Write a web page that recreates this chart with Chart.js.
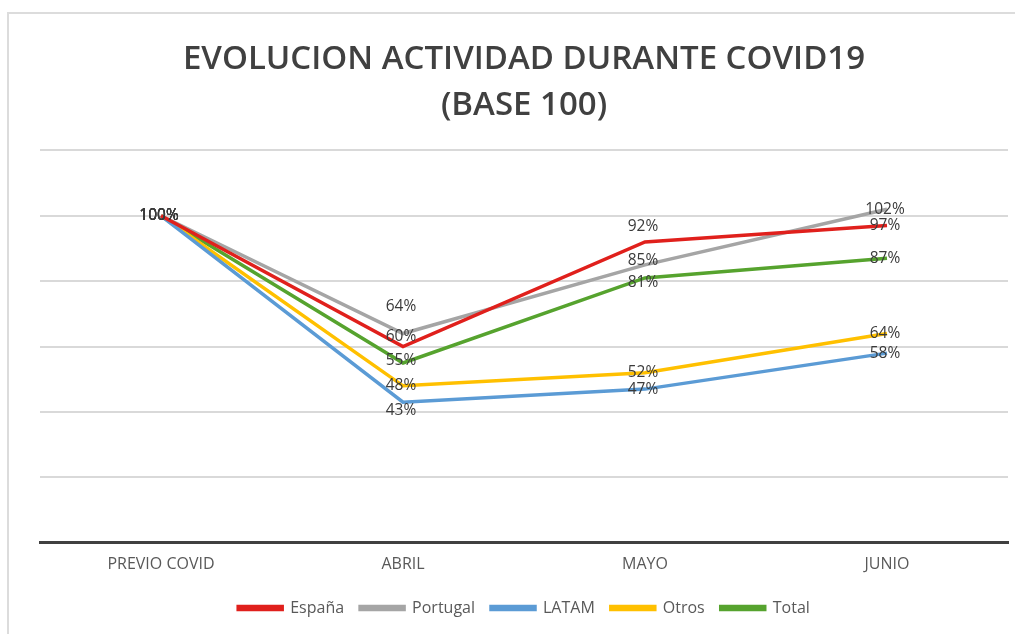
<!DOCTYPE html>
<html>
<head>
<meta charset="utf-8">
<script src="https://cdn.jsdelivr.net/npm/chart.js@4.4.1/dist/chart.umd.min.js"></script>
<style>
  html, body { margin: 0; padding: 0; background: #fff; overflow: hidden; }
  #frame {
    position: absolute; left: 7px; top: 12px;
    width: 1020px; height: 640px;
    border: 2px solid #dcdcdc;
  }
  #wrap { position: absolute; left: 0; top: 0; width: 1006px; height: 620px; }
</style>
</head>
<body>
<div id="frame"><div id="wrap"><canvas id="chart"></canvas></div></div>
<script>
const categories = ["PREVIO COVID", "ABRIL", "MAYO", "JUNIO"];
const espana = [100, 60, 92, 97];
const portugal = [100, 64, 85, 102];
const latam = [100, 43, 47, 58];
const otros = [100, 48, 52, 64];
const total = [100, 55, 81, 87];

// vertical nudge of each data label (px), like Excel's label placement
const labelShift = {
  "España": [0, -10, -15, 0],
  "Portugal": [0, -27, -4, 0],
  "LATAM": [0, 8, 0, 0],
  "Otros": [0, 0, 0, 0],
  "Total": [0, -2, 5, 0]
};

const FONT = "'Open Sans', sans-serif";

const pointLabels = {
  id: "pointLabels",
  afterDatasetsDraw(chart) {
    const ctx = chart.ctx;
    ctx.save();
    ctx.font = "15.5px " + FONT;
    ctx.fillStyle = "#3a3a3a";
    ctx.textAlign = "center";
    ctx.textBaseline = "middle";
    chart.data.datasets.forEach((ds, di) => {
      const meta = chart.getDatasetMeta(di);
      const shift = labelShift[ds.label] || [];
      meta.data.forEach((pt, i) => {
        ctx.fillText(ds.data[i] + "%", pt.x - 2, pt.y + (shift[i] || 0));
      });
    });
    ctx.restore();
  }
};

function series(label, data, color) {
  return {
    label, data,
    borderColor: color,
    backgroundColor: color,
    borderWidth: 3.5,
    pointRadius: 0,
    tension: 0,
    fill: false
  };
}

new Chart(document.getElementById("chart"), {
  type: "line",
  data: {
    labels: categories,
    datasets: [
      series("España", espana, "#e0201c"),
      series("Portugal", portugal, "#a5a5a5"),
      series("LATAM", latam, "#5b9bd5"),
      series("Otros", otros, "#ffc000"),
      series("Total", total, "#56a32e")
    ]
  },
  options: {
    responsive: true,
    maintainAspectRatio: false,
    animation: false,
    layout: { padding: { left: 31, right: 7, top: 0, bottom: 8 } },
    plugins: {
      title: {
        display: true,
        text: ["EVOLUCION ACTIVIDAD DURANTE COVID19", "(BASE 100)"],
        color: "#404040",
        font: { family: FONT, size: 33, weight: "600", lineHeight: 1.4 },
        padding: { top: 22, bottom: 22 }
      },
      legend: {
        position: "bottom",
        labels: {
          color: "#595959",
          font: { family: FONT, size: 16 },
          boxWidth: 44,
          boxHeight: 3,
          padding: 16
        }
      },
      tooltip: { enabled: false }
    },
    scales: {
      x: {
        offset: true,
        afterFit(scale) { scale.height += 6; },
        grid: { display: false },
        border: { display: true, color: "#404040", width: 3 },
        ticks: { color: "#595959", font: { family: FONT, size: 16 }, padding: 4 }
      },
      y: {
        min: 0,
        max: 120,
        afterFit(scale) { scale.width = 0; },
        ticks: { display: false, stepSize: 20 },
        border: { display: false },
        grid: { color: "#d9d9d9", lineWidth: 2, drawTicks: false }
      }
    }
  },
  plugins: [pointLabels]
});
</script>
</body>
</html>
